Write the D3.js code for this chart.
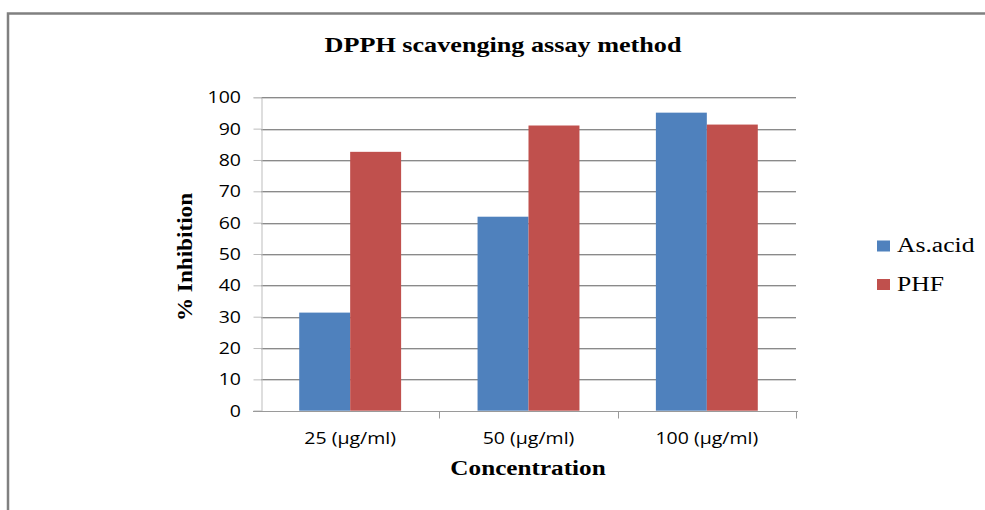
<!DOCTYPE html>
<html>
<head>
<meta charset="utf-8">
<script src="https://cdn.jsdelivr.net/npm/d3@7"></script>
<style>
  html, body { margin: 0; padding: 0; background: #fff; }
  svg { display: block; }
</style>
</head>
<body>
<script>
// ---- data ----
const categories = ["25 (µg/ml)", "50 (µg/ml)", "100 (µg/ml)"];
const seriesNames = ["As.acid", "PHF"];
const asAcid = [31.3, 61.9, 95.1];
const phf = [82.6, 91.0, 91.3];
const yTicks = [0, 10, 20, 30, 40, 50, 60, 70, 80, 90, 100];
const colors = ["#4f81bd", "#c0504d"];

const W = 985, H = 510;
const svg = d3.select("body").append("svg").attr("width", W).attr("height", H);

// frame
svg.append("rect").attr("x", 8).attr("y", 13.5).attr("width", 1000).attr("height", 520)
  .attr("fill", "none").attr("stroke", "#808080").attr("stroke-width", 2.5);

const plot = { left: 261, right: 796, top: 97.3, bottom: 410.7 };
const x = d3.scaleBand().domain(categories).range([plot.left, plot.right]).padding(0);
const xs = d3.scaleBand().domain(seriesNames).range([0, x.bandwidth()]).paddingInner(0).paddingOuter(0.75);
const y = d3.scaleLinear().domain([0, 100]).range([plot.bottom, plot.top]);

function stext(parent, px, py, str, o) {
  return parent.append("text")
    .attr("transform", `translate(${px},${py}) ${o.rot ? "rotate(" + o.rot + ") " : ""}scale(${o.sx},1)`)
    .attr("text-anchor", o.anchor || "middle")
    .attr("font-family", o.family)
    .attr("font-size", o.size)
    .attr("font-weight", o.weight || "normal")
    .attr("fill", o.fill || "#000")
    .text(str);
}

// gridlines
const grid = svg.append("g");
yTicks.filter(t => t > 0).forEach(t => {
  grid.append("line").attr("x1", plot.left).attr("x2", plot.right)
    .attr("y1", Math.round(y(t)) + 0.5).attr("y2", Math.round(y(t)) + 0.5)
    .attr("stroke", "#8a8a8a").attr("stroke-width", 1);
  grid.append("line").attr("x1", plot.left).attr("x2", plot.right)
    .attr("y1", Math.round(y(t)) + 1.5).attr("y2", Math.round(y(t)) + 1.5)
    .attr("stroke", "#d4d4d4").attr("stroke-width", 1);
});

// bars
const data = categories.map((c, i) => ({ c, vals: [asAcid[i], phf[i]] }));
const gBars = svg.append("g");
data.forEach(d => {
  d.vals.forEach((v, j) => {
    gBars.append("rect")
      .attr("x", x(d.c) + xs(seriesNames[j]))
      .attr("y", y(v))
      .attr("width", xs.bandwidth())
      .attr("height", y(0) - y(v))
      .attr("fill", colors[j]);
  });
});

// y axis
const yAxis = d3.axisLeft(y).tickValues(yTicks).tickSize(8).tickFormat("");
const gy = svg.append("g").attr("transform", `translate(${plot.left + 0.5},0)`).call(yAxis);
gy.selectAll("path").attr("stroke", "#bdbdbd");
gy.selectAll("line").attr("stroke", "#bdbdbd");
yTicks.forEach(t => {
  stext(svg, 241, y(t) + 6, String(t), { anchor: "end", family: "'Open Sans', sans-serif", size: 16, sx: 1.22 });
});

// x axis
const gx = svg.append("g").attr("transform", `translate(0,${Math.round(plot.bottom) + 0.5})`);
gx.append("line").attr("x1", 253).attr("x2", plot.right + 2).attr("y1", 0).attr("y2", 0).attr("stroke", "#9a9a9a");
const bounds = categories.map(c => x(c)).concat([x(categories[categories.length - 1]) + x.bandwidth()]);
bounds.slice(1).forEach(b => {
  gx.append("line").attr("x1", Math.round(b) + 0.5).attr("x2", Math.round(b) + 0.5).attr("y1", 0).attr("y2", 7).attr("stroke", "#9a9a9a");
});
categories.forEach(c => {
  stext(svg, x(c) + x.bandwidth() / 2, 443.5, c, { family: "'Open Sans', sans-serif", size: 16, sx: 1.22 });
});

// titles
stext(svg, 503, 52, "DPPH scavenging assay method", { family: "'Liberation Serif', serif", size: 22, weight: "bold", sx: 1.19 });
stext(svg, 528, 475, "Concentration", { family: "'Liberation Serif', serif", size: 20, weight: "bold", sx: 1.26 });
stext(svg, 192, 257, "% Inhibition", { family: "'Liberation Serif', serif", size: 20, weight: "bold", rot: -90, sx: 1.16 });

// legend
const leg = svg.append("g");
seriesNames.forEach((s, i) => {
  const ly = 246 + i * 38.5;
  leg.append("rect").attr("x", 877).attr("y", ly - 5.5).attr("width", 13).attr("height", 11).attr("fill", colors[i]);
  stext(leg, 897, ly + 6, s, { anchor: "start", family: "'Liberation Serif', serif", size: 20, sx: 1.28 });
});
</script>
</body>
</html>
